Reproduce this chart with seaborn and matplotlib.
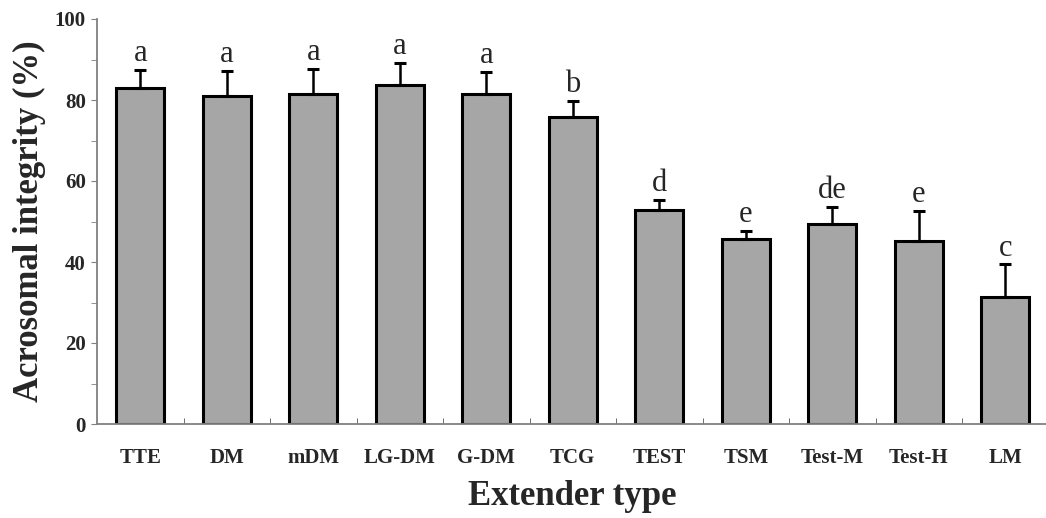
import matplotlib
matplotlib.use("Agg")
import matplotlib.pyplot as plt
import seaborn as sns
import numpy as np
import pandas as pd

# Data
extenders = ["TTE", "DM", "mDM", "LG-DM", "G-DM", "TCG", "TEST", "TSM", "Test-M", "Test-H", "LM"]
integrity = [82.9, 81.0, 81.6, 83.8, 81.6, 75.9, 52.8, 45.6, 49.4, 45.3, 31.4]
sd = [4.5, 6.2, 6.0, 5.3, 5.3, 3.9, 2.5, 2.1, 4.1, 7.3, 8.0]
letters = ["a", "a", "a", "a", "a", "b", "d", "e", "de", "e", "c"]

df = pd.DataFrame({"extender": extenders, "integrity": integrity, "sd": sd})

sns.set_style("ticks")
plt.rcParams["font.family"] = ["Liberation Serif", "DejaVu Serif"]

fig = plt.figure(figsize=(10.46, 5.18), dpi=100)
ax = fig.add_axes([97 / 1046, 1 - 424 / 518, 951.5 / 1046, 405 / 518])

sns.barplot(data=df, x="extender", y="integrity", color="#a6a6a6",
            edgecolor="black", linewidth=2.2, width=0.56, saturation=1,
            errorbar=None, ax=ax)

# upper error bars only
x = np.arange(len(extenders))
ax.errorbar(x, df["integrity"], yerr=[np.zeros(len(x)), df["sd"]], fmt="none",
            ecolor="black", elinewidth=1.8, capsize=4.5, capthick=2.2, zorder=1)

# significance letters
for xi, m, s, lt in zip(x, integrity, sd, letters):
    ax.text(xi, m + s + 2.2, lt, ha="center", va="baseline", fontsize=22)

ax.set_xlim(-0.5, 10.5)
ax.set_ylim(0, 100)
ax.set_yticks(range(0, 101, 20))
ax.set_yticks(range(10, 100, 20), minor=True)
ax.set_xticks(np.arange(0.5, 10.5, 1), minor=True)

ax.tick_params(axis="x", which="major", length=0, pad=17, labelsize=15)
ax.tick_params(axis="x", which="minor", direction="in", length=4, color="#555555")
ax.tick_params(axis="y", which="both", direction="out", length=4, color="#808080",
               labelsize=15, pad=4)

for lbl in ax.get_xticklabels() + ax.get_yticklabels():
    lbl.set_fontweight("bold")

ax.set_xlabel("Extender type", fontsize=25, fontweight="bold", labelpad=9)
ax.set_ylabel("Acrosomal integrity (%)", fontsize=25, fontweight="bold", labelpad=6)

sns.despine(ax=ax)
for side in ["left", "bottom"]:
    ax.spines[side].set_color("#808080")
    ax.spines[side].set_linewidth(1.3)

fig.savefig("out.png", dpi=100)
